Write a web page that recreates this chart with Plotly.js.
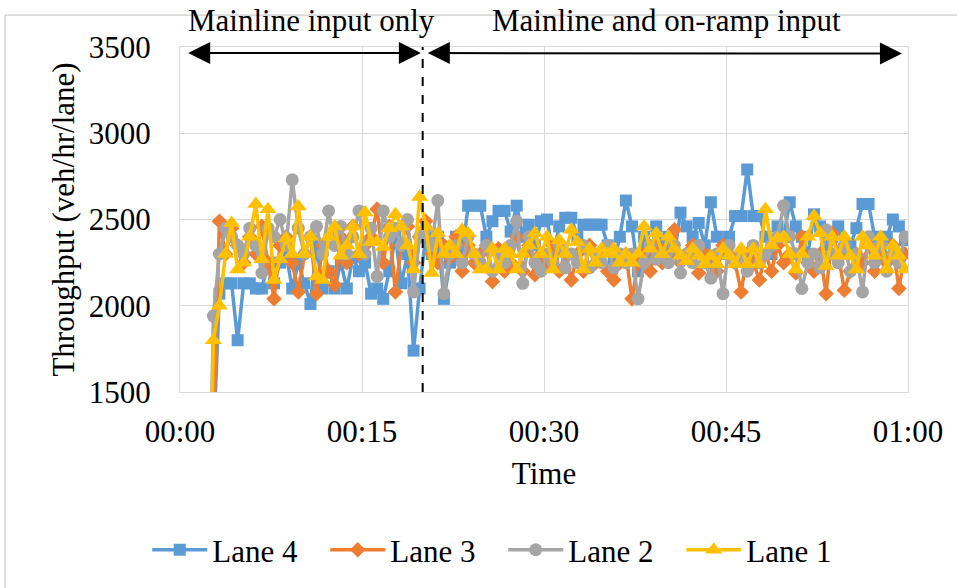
<!DOCTYPE html>
<html>
<head>
<meta charset="utf-8">
<script src="https://cdn.plot.ly/plotly-3.0.1.min.js"></script>
<style>html,body{margin:0;padding:0;background:#fff;}#chart{width:957px;height:588px;}</style>
</head>
<body>
<div id="chart"></div>
<script>
// Time in minutes (samples every 30 s)
const timeMin = [
 2.25, 2.75, 3.25, 3.75, 4.25, 4.75, 5.25, 5.75, 6.25, 6.75, 7.25,
 7.75, 8.25, 8.75, 9.25, 9.75, 10.25, 10.75, 11.25, 11.75, 12.25,
 12.75, 13.25, 13.75, 14.25, 14.75, 15.25, 15.75, 16.25, 16.75, 17.25,
 17.75, 18.25, 18.75, 19.25, 19.75, 20.25, 20.75, 21.25, 21.75, 22.25,
 22.75, 23.25, 23.75, 24.25, 24.75, 25.25, 25.75, 26.25, 26.75, 27.25,
 27.75, 28.25, 28.75, 29.25, 29.75, 30.25, 30.75, 31.25, 31.75, 32.25,
 32.75, 33.25, 33.75, 34.25, 34.75, 35.25, 35.75, 36.25, 36.75, 37.25,
 37.75, 38.25, 38.75, 39.25, 39.75, 40.25, 40.75, 41.25, 41.75, 42.25,
 42.75, 43.25, 43.75, 44.25, 44.75, 45.25, 45.75, 46.25, 46.75, 47.25,
 47.75, 48.25, 48.75, 49.25, 49.75, 50.25, 50.75, 51.25, 51.75, 52.25,
 52.75, 53.25, 53.75, 54.25, 54.75, 55.25, 55.75, 56.25, 56.75, 57.25,
 57.75, 58.25, 58.75, 59.25, 59.75
];

const lane4 = [0,
 1200, 2070, 2130, 2130, 1800, 2130, 2130, 2100, 2100, 2250,
 2130, 2250, 2300, 2100, 2250, 2130, 2010, 2350, 2100, 2200,
 2100, 2250, 2100, 2280, 2200, 2250, 2070, 2100, 2040, 2200,
 2400, 2130, 2300, 1740, 2100, 2400, 2300, 2400, 2040, 2250,
 2400, 2300, 2580, 2580, 2580, 2400, 2490, 2550, 2550, 2430,
 2580, 2400, 2470, 2350, 2490, 2500, 2300, 2460, 2510, 2510,
 2400, 2470, 2470, 2470, 2470, 2350, 2250, 2400, 2610, 2460,
 2200, 2400, 2300, 2460, 2350, 2400, 2300, 2540, 2460, 2400,
 2480, 2350, 2600, 2400, 2300, 2400, 2520, 2520, 2790, 2520,
 2520, 2400, 2300, 2460, 2400, 2600, 2460, 2400, 2300, 2530,
 2460, 2350, 2400, 2460, 2300, 2350, 2450, 2590, 2590, 2400,
 2300, 2400, 2500, 2460, 2380];

const lane3 = [0,
 1300, 2490, 2300, 2450, 2350, 2250, 2400, 2300, 2460, 2250,
 2040, 2350, 2400, 2250, 2080, 2300, 2400, 2070, 2350, 2200,
 2120, 2400, 2250, 2460, 2300, 2350, 2400, 2560, 2250, 2460,
 2080, 2350, 2460, 2250, 2400, 2490, 2300, 2250, 2350, 2280,
 2400, 2200, 2350, 2250, 2300, 2350, 2140, 2330, 2200, 2250,
 2400, 2200, 2350, 2180, 2300, 2250, 2350, 2200, 2300, 2150,
 2300, 2200, 2350, 2250, 2300, 2200, 2150, 2250, 2300, 2040,
 2250, 2300, 2200, 2350, 2250, 2300, 2440, 2250, 2300, 2350,
 2190, 2300, 2250, 2200, 2350, 2300, 2250, 2080, 2300, 2250,
 2150, 2300, 2200, 2350, 2250, 2300, 2190, 2400, 2250, 2200,
 2300, 2070, 2420, 2300, 2090, 2200, 2300, 2250, 2350, 2200,
 2300, 2250, 2350, 2100, 2300];

const lane2 = [0,
 1940, 2300, 2450, 2400, 2350, 2300, 2450, 2350, 2190, 2450,
 2400, 2500, 2350, 2730, 2450, 2300, 2400, 2460, 2300, 2550,
 2350, 2460, 2300, 2400, 2550, 2300, 2450, 2170, 2550, 2400,
 2450, 2350, 2500, 2080, 2400, 2450, 2350, 2610, 2070, 2300,
 2350, 2250, 2400, 2300, 2250, 2350, 2200, 2300, 2250, 2350,
 2490, 2130, 2400, 2250, 2200, 2300, 2250, 2350, 2220, 2300,
 2250, 2350, 2220, 2300, 2250, 2350, 2220, 2300, 2250, 2300,
 2040, 2250, 2350, 2270, 2300, 2250, 2350, 2190, 2300, 2250,
 2350, 2250, 2160, 2300, 2070, 2350, 2250, 2300, 2200, 2350,
 2250, 2300, 2350, 2400, 2580, 2400, 2300, 2100, 2250, 2300,
 2220, 2440, 2300, 2250, 2350, 2200, 2300, 2080, 2400, 2250,
 2350, 2200, 2300, 2250, 2400];

const lane1 = [0,
 1800, 2000, 2300, 2480, 2210, 2250, 2400, 2590, 2270, 2560,
 2150, 2270, 2390, 2300, 2575, 2300, 2400, 2170, 2150, 2400,
 2460, 2290, 2350, 2460, 2300, 2540, 2370, 2370, 2340, 2450,
 2530, 2460, 2350, 2210, 2630, 2460, 2190, 2420, 2300, 2350,
 2300, 2440, 2420, 2300, 2210, 2210, 2330, 2210, 2330, 2300,
 2210, 2300, 2350, 2420, 2300, 2400, 2210, 2380, 2300, 2440,
 2370, 2210, 2330, 2250, 2330, 2300, 2330, 2250, 2300, 2250,
 2300, 2460, 2330, 2420, 2300, 2400, 2330, 2290, 2260, 2330,
 2290, 2240, 2290, 2240, 2330, 2290, 2240, 2330, 2240, 2330,
 2240, 2560, 2350, 2390, 2400, 2300, 2210, 2300, 2400, 2520,
 2420, 2230, 2400, 2290, 2400, 2290, 2210, 2400, 2350, 2290,
 2400, 2210, 2350, 2290, 2210];

const tickVals = [0, 15, 30, 45, 60];
const tickText = ['00:00', '00:15', '00:30', '00:45', '01:00'];
const laneNames = ['Lane 4', 'Lane 3', 'Lane 2', 'Lane 1'];
const laneColors = ['#5B9BD5', '#ED7D31', '#A5A5A5', '#FFC000'];
const laneSymbols = ['square', 'diamond', 'circle', 'triangle-up'];
const laneSizes = [12, 12, 13, 15];
const laneData = [lane4, lane3, lane2, lane1];

const FONT = '"Liberation Serif", "Times New Roman", serif';

const traces = laneData.map((vals, i) => ({
  type: 'scatter',
  mode: 'lines+markers',
  name: laneNames[i],
  x: timeMin,
  y: vals,
  line: {color: laneColors[i], width: 3.5},
  marker: {symbol: laneSymbols[i], size: laneSizes[i], color: laneColors[i]},
  cliponaxis: true
}));

const layout = {
  width: 957, height: 588,
  margin: {l: 180, r: 49, t: 47, b: 195},
  paper_bgcolor: '#ffffff', plot_bgcolor: '#ffffff',
  font: {family: FONT, size: 31, color: '#000'},
  showlegend: true,
  xaxis: {
    range: [0, 60], tickvals: tickVals, ticktext: tickText,
    showgrid: true, gridcolor: '#d9d9d9', gridwidth: 1,
    showline: true, mirror: true, linecolor: '#d9d9d9', linewidth: 1,
    zeroline: false, ticks: '', ticklabelstandoff: 12,
    tickfont: {family: FONT, size: 31, color: '#000'},
    title: {text: 'Time', font: {family: FONT, size: 31, color: '#000'}, standoff: 14},
    fixedrange: true
  },
  yaxis: {
    range: [1500, 3500], dtick: 500, tick0: 1500,
    showgrid: true, gridcolor: '#d9d9d9', gridwidth: 1,
    showline: true, mirror: true, linecolor: '#d9d9d9', linewidth: 1,
    zeroline: false, ticks: '', ticklabelstandoff: 22,
    tickfont: {family: FONT, size: 31, color: '#000'},
    title: {text: 'Throughput (veh/hr/lane)', font: {family: FONT, size: 31, color: '#000'}, standoff: 4},
    fixedrange: true
  },
  legend: {
    orientation: 'h', x: -0.045, xanchor: 'left', y: -0.454, yanchor: 'middle',
    font: {family: FONT, size: 31, color: '#000'},
    entrywidth: 108, entrywidthmode: 'pixels', itemwidth: 55,
    bgcolor: 'rgba(0,0,0,0)', traceorder: 'normal'
  },
  shapes: [
    {type: 'line', xref: 'x', yref: 'paper', x0: 20, x1: 20, y0: 0, y1: 1,
     line: {color: '#000', width: 2, dash: 'dash'}},
    {type: 'line', xref: 'paper', yref: 'paper', x0: -0.2404, x1: 1.1, y0: 1.0925, y1: 1.0925,
     line: {color: '#bfbfbf', width: 1}},
    {type: 'line', xref: 'paper', yref: 'paper', x0: -0.2404, x1: -0.2404, y0: -0.7, y1: 1.0925,
     line: {color: '#bfbfbf', width: 1}}
  ],
  annotations: [
    {xref: 'x', yref: 'paper', x: 10.8, y: 1.076, text: 'Mainline input only', showarrow: false,
     xanchor: 'center', yanchor: 'middle', font: {family: FONT, size: 31, color: '#000'}},
    {xref: 'x', yref: 'paper', x: 40.1, y: 1.076, text: 'Mainline and on-ramp input', showarrow: false,
     xanchor: 'center', yanchor: 'middle', font: {family: FONT, size: 31, color: '#000'}},
    {xref: 'x', yref: 'y', x: 19.85, y: 3465, axref: 'x', ayref: 'y', ax: 0.55, ay: 3465,
     text: '', showarrow: true, arrowside: 'end+start', arrowhead: 2, arrowsize: 2.2, arrowwidth: 2, arrowcolor: '#000'},
    {xref: 'x', yref: 'y', x: 59.5, y: 3462, axref: 'x', ayref: 'y', ax: 20.3, ay: 3465,
     text: '', showarrow: true, arrowside: 'end+start', arrowhead: 2, arrowsize: 2.2, arrowwidth: 2, arrowcolor: '#000'}
  ]
};

Plotly.newPlot('chart', traces, layout, {staticPlot: true, displayModeBar: false});
</script>
</body>
</html>
